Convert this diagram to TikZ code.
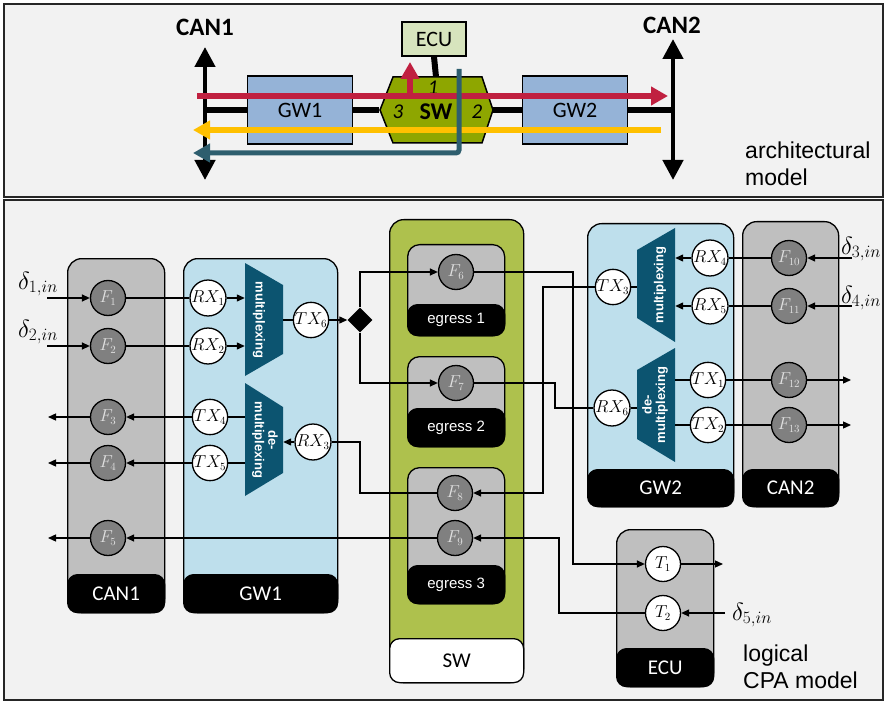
\documentclass[tikz,border=0pt]{standalone}
\usepackage{fontspec}
\setmainfont{Liberation Sans}
\newfontfamily\calfont{Carlito}
\newcommand{\setfs}[2]{\fontsize{#1}{#2}\selectfont}
\definecolor{PanelGray}{RGB}{242,242,242}
\definecolor{CanGray}{RGB}{191,191,191}
\definecolor{GwBlue}{RGB}{190,223,236}
\definecolor{MuxTeal}{RGB}{12,84,112}
\definecolor{SwGreen}{RGB}{174,193,77}
\definecolor{TopBlue}{RGB}{149,179,215}
\definecolor{HexGreen}{RGB}{142,166,0}
\definecolor{EcuGreen}{RGB}{215,228,189}
\definecolor{FlowRed}{RGB}{192,32,64}
\definecolor{FlowYellow}{RGB}{255,192,0}
\definecolor{FlowTeal}{RGB}{46,94,110}
\definecolor{TaskGray}{RGB}{128,128,128}
\usetikzlibrary{arrows.meta, shapes.geometric}

\begin{document}
\begin{tikzpicture}[x=1pt, y=-1pt, panel/.style={draw=black!85, line width=1.2pt, fill=PanelGray},
  col/.style={draw, line width=1.3pt, rounded corners=14pt, anchor=north west, inner sep=0pt}, can/.style={col, fill=CanGray}, gw/.style={col, fill=GwBlue},
  band/.style={draw, line width=1.3pt, fill=black, text=white, rounded corners=10pt, anchor=south, inner sep=0pt, minimum height=38pt, font=\calfont\setfs{21}{25}},
  task/.style={circle, draw, line width=1.3pt, fill=TaskGray, text=black!12, minimum size=35pt, inner sep=0pt, font=\setfs{16}{18}}, port/.style={task, fill=white, text=black},
  muxbox/.style={minimum width=38pt, inner sep=0pt}, muxlbl/.style={text=white, font=\bfseries\setfs{13}{13.5}, align=center, inner sep=0pt},
  ar/.style={-{Triangle[length=8pt, width=7pt]}, line width=1.3pt}, ln/.style={line width=1.3pt}, delta/.style={font=\setfs{26}{30}, inner sep=0pt},
  tbox/.style={draw, line width=1.5pt, inner sep=0pt, font=\calfont\setfs{22}{26}}, bus/.style={{Triangle[length=20pt, width=20pt]}-{Triangle[length=20pt, width=20pt]}, line width=4.5pt},
  wire/.style={line width=6pt}, flow/.style={-{Triangle[length=17pt, width=18pt]}, line width=6pt}, note/.style={anchor=west, align=left, inner sep=0pt, font=\setfs{23}{27}},
  port num/.style={inner sep=0pt, font=\calfont\itshape\setfs{21}{24}}]
\useasboundingbox (0,0) rectangle (888,703);
\draw[panel] (4,4) rectangle (883,197);
\draw[panel] (4,200) rectangle (883,700);
\node[font=\calfont\bfseries\setfs{25}{30}] (can1t) at (205,27) {CAN1};
\node[font=\calfont\bfseries\setfs{25}{30}] (can2t) at (672,25) {CAN2};
\coordinate (c1top) at (205,47); \coordinate (c1bot) at (205,180);
\coordinate (c2top) at (673,39); \coordinate (c2bot) at (673,180);
\node[tbox, fill=TopBlue, minimum width=105pt, minimum height=68pt] (gwA) at (300,110) {GW1};
\node[tbox, fill=TopBlue, minimum width=105pt, minimum height=68pt] (gwB) at (575,110) {GW2};
\node[tbox, fill=EcuGreen, minimum width=64pt, minimum height=34pt] (ecuA) at (434,39) {ECU};
\node[minimum width=113pt, minimum height=66pt, inner sep=0pt] (swA) at (436,110) {};
\draw[wire] (gwA.west -| c1top) -- (gwA.west); \draw[wire] (gwA.east) -- (swA.west); \draw[wire] (swA.east) -- (gwB.west);
\draw[wire] (gwB.east) -- (gwB.east -| c2top); \draw[wire] (ecuA.south) -- (swA.north);
\draw[bus] (c1bot) -- (c1top); \draw[bus] (c2bot) -- (c2top);
\filldraw[fill=HexGreen, line width=1.5pt] (380,110) -- (393,77) -- (482,77) -- (493,110) -- (482,143) -- (393,143) -- cycle;
\node[inner sep=0pt, font=\calfont\bfseries\setfs{24}{28}] (swAt) at (436,112) {SW};
\node[port num] (p3) at (398,112) {3};
\node[port num] (p2) at (477,112) {2};
\node[port num] (p1) at (433,88) {1};
\coordinate (r0) at (197,96); \coordinate (r1) at (668,96); \coordinate (r2) at (410,96); \coordinate (r3) at (410,62);
\coordinate (y0) at (661,130); \coordinate (y1) at (193,130);
\coordinate (t0) at (459,69); \coordinate (t1) at (459,153); \coordinate (t2) at (193,153);
\draw[flow, FlowRed] (r0) -- (r1); \draw[flow, FlowRed] (r2) -- (r3);
\draw[flow, FlowYellow] (y0) -- (y1);
\draw[flow, FlowTeal, line width=5pt, rounded corners=3pt] (t0) -- (t1) -- (t2);
\node[note] (archt) at (745,164) {architectural\\model};
\node[can, minimum width=97pt, minimum height=354pt] (can1c) at (67,258) {};
\node[band, minimum width=97pt] (can1b) at (can1c.south) {CAN1};
\node[gw, minimum width=154pt, minimum height=354pt] (gw1c) at (183,258) {};
\node[band, minimum width=154pt] (gw1b) at (gw1c.south) {GW1};
\node[col, fill=SwGreen, minimum width=134pt, minimum height=463pt] (swc) at (389,219) {};
\node[band, fill=white, text=black, minimum width=134pt, minimum height=44pt] (swb) at (swc.south) {SW};
\node[can, rounded corners=12pt, minimum width=97pt, minimum height=91pt] (eg1c) at (407,244) {};
\node[band, minimum width=97pt, minimum height=31pt, font=\setfs{15}{18}] (eg1b) at (eg1c.south) {egress 1};
\node[can, rounded corners=12pt, minimum width=97pt, minimum height=90pt] (eg2c) at (407,356) {};
\node[band, minimum width=97pt, font=\setfs{15}{18}] (eg2b) at (eg2c.south) {egress 2};
\node[can, rounded corners=12pt, minimum width=97pt, minimum height=136pt] (eg3c) at (407,467) {};
\node[band, minimum width=97pt, font=\setfs{15}{18}] (eg3b) at (eg3c.south) {egress 3};
\node[gw, minimum width=146pt, minimum height=283pt] (gw2c) at (587,223) {};
\node[band, minimum width=146pt, minimum height=37pt] (gw2b) at (gw2c.south) {GW2};
\node[can, minimum width=96pt, minimum height=285pt] (can2c) at (742,221) {};
\node[band, minimum width=96pt, minimum height=37pt] (can2b) at (can2c.south) {CAN2};
\node[can, minimum width=97pt, minimum height=157pt] (ecuc) at (616,529) {};
\node[band, minimum width=97pt] (ecub) at (ecuc.south) {ECU};
\node[note] (logt) at (743,667) {logical\\CPA model};
\fill[MuxTeal] (245,263) -- (283,285) -- (283,354) -- (245,376) -- cycle;
\fill[MuxTeal] (245,383) -- (283,407) -- (283,473) -- (245,496) -- cycle;
\fill[MuxTeal] (675,228) -- (675,342) -- (637,318) -- (637,250) -- cycle;
\fill[MuxTeal] (675,348) -- (675,462) -- (637,439) -- (637,370) -- cycle;
\node[muxbox, minimum height=113pt] (mux1) at (264,320) {};
\node[muxbox, minimum height=113pt] (dmx1) at (264,440) {};
\node[muxbox, minimum height=114pt] (mux2) at (656,285) {};
\node[muxbox, minimum height=114pt] (dmx2) at (656,405) {};
\node[muxlbl, rotate=-90] (mux1t) at (259,320) {multiplexing};
\node[muxlbl, rotate=-90] (dmx1t) at (265,440) {de-\\multiplexing};
\node[muxlbl, rotate=90] (mux2t) at (660,285) {multiplexing};
\node[muxlbl, rotate=90] (dmx2t) at (655,405) {de-\\multiplexing};
\node[task] (F1) at (108,298) {$F_1$}; \node[task] (F2) at (108,346) {$F_2$};
\node[task] (F3) at (108,417) {$F_3$}; \node[task] (F4) at (108,463) {$F_4$};
\node[task] (F5) at (108,538) {$F_5$};
\node[port] (RX1) at (208,298) {$RX_1$}; \node[port] (RX2) at (208,346) {$RX_2$};
\node[port] (TX6) at (311,320) {$TX_6$};
\node[port] (TX4) at (210,417) {$TX_4$}; \node[port] (TX5) at (210,463) {$TX_5$};
\node[port] (RX3) at (313,442) {$RX_3$};
\node[diamond, fill=black, minimum size=25pt, inner sep=0pt] (dia) at (360,320) {};
\node[task] (F6) at (456,272) {$F_6$}; \node[task] (F7) at (456,383) {$F_7$};
\node[task] (F8) at (455,493) {$F_8$}; \node[task] (F9) at (455,538) {$F_9$};
\node[port] (RX4) at (710,258) {$RX_4$}; \node[port] (RX5) at (710,306) {$RX_5$};
\node[port] (TX3) at (613,287) {$TX_3$}; \node[port] (RX6) at (612,408) {$RX_6$};
\node[port] (TX1) at (708,380) {$TX_1$}; \node[port] (TX2) at (708,425) {$TX_2$};
\node[task] (F10) at (789,258) {$F_{10}$}; \node[task] (F11) at (789,306) {$F_{11}$};
\node[task] (F12) at (789,380) {$F_{12}$}; \node[task] (F13) at (789,425) {$F_{13}$};
\node[port] (T1) at (663,564) {$T_1$}; \node[port] (T2) at (663,613) {$T_2$};
\node[delta] (d1) at (38,284) {$\delta_{1,in}$}; \node[delta] (d2) at (38,332) {$\delta_{2,in}$};
\node[delta] (d3) at (861,249) {$\delta_{3,in}$}; \node[delta] (d4) at (861,298) {$\delta_{4,in}$};
\node[delta] (d5) at (752,615) {$\delta_{5,in}$};
\coordinate (in1) at (47,298); \coordinate (in2) at (47,346); \coordinate (out3) at (48,417); \coordinate (out4) at (48,463); \coordinate (out5) at (48,538);
\coordinate (in3) at (852,258); \coordinate (in4) at (852,306); \coordinate (out12) at (851,380); \coordinate (out13) at (851,425);
\coordinate (outT1) at (723,564); \coordinate (in5) at (725,613);
\coordinate (bTX3) at (543,0); \coordinate (bF6) at (573,0); \coordinate (bF7) at (555,0); \coordinate (bF9) at (559,0);
\draw[ar] (in1) -- (F1); \draw[ar] (in2) -- (F2); \draw[ln] (F1) -- (RX1); \draw[ln] (F2) -- (RX2);
\draw[ar] (RX1) -- (RX1 -| mux1.west); \draw[ar] (RX2) -- (RX2 -| mux1.west); \draw[ln] (TX6 -| mux1.east) -- (TX6); \draw[ar] (TX6) -- (dia);
\draw[ln] (TX4 -| dmx1.west) -- (TX4); \draw[ln] (TX5 -| dmx1.west) -- (TX5); \draw[ar] (RX3) -- (RX3 -| dmx1.east);
\draw[ar] (TX4) -- (F3); \draw[ar] (TX5) -- (F4); \draw[ar] (F3) -- (out3); \draw[ar] (F4) -- (out4);
\draw[ar] (dia) |- (F6); \draw[ar] (dia) |- (F7);
\draw[ln] (F8) -- (F8 -| dia) |- (RX3);
\draw[ar] (F9) -- (F5); \draw[ar] (F5) -- (out5);
\draw[ar] (F6) -- (F6 -| bF6) |- (T1); \draw[ln] (F7) -- (F7 -| bF7) |- (RX6);
\draw[ar] (TX3) -- (TX3 -| bTX3) |- (F8); \draw[ar] (T2) -- (T2 -| bF9) |- (F9);
\draw[ln] (TX3) -- (TX3 -| mux2.west); \draw[ln] (RX6) -- (RX6 -| dmx2.west);
\draw[ar] (RX4) -- (RX4 -| mux2.east); \draw[ar] (RX5) -- (RX5 -| mux2.east);
\draw[ln] (TX1 -| dmx2.east) -- (TX1); \draw[ln] (TX2 -| dmx2.east) -- (TX2);
\draw[ln] (F10) -- (RX4); \draw[ln] (F11) -- (RX5); \draw[ar] (in3) -- (F10); \draw[ar] (in4) -- (F11);
\draw[ln] (TX1) -- (F12); \draw[ln] (TX2) -- (F13); \draw[ar] (F12) -- (out12); \draw[ar] (F13) -- (out13);
\draw[ar] (T1) -- (outT1); \draw[ar] (in5) -- (T2);
\end{tikzpicture}
\end{document}
